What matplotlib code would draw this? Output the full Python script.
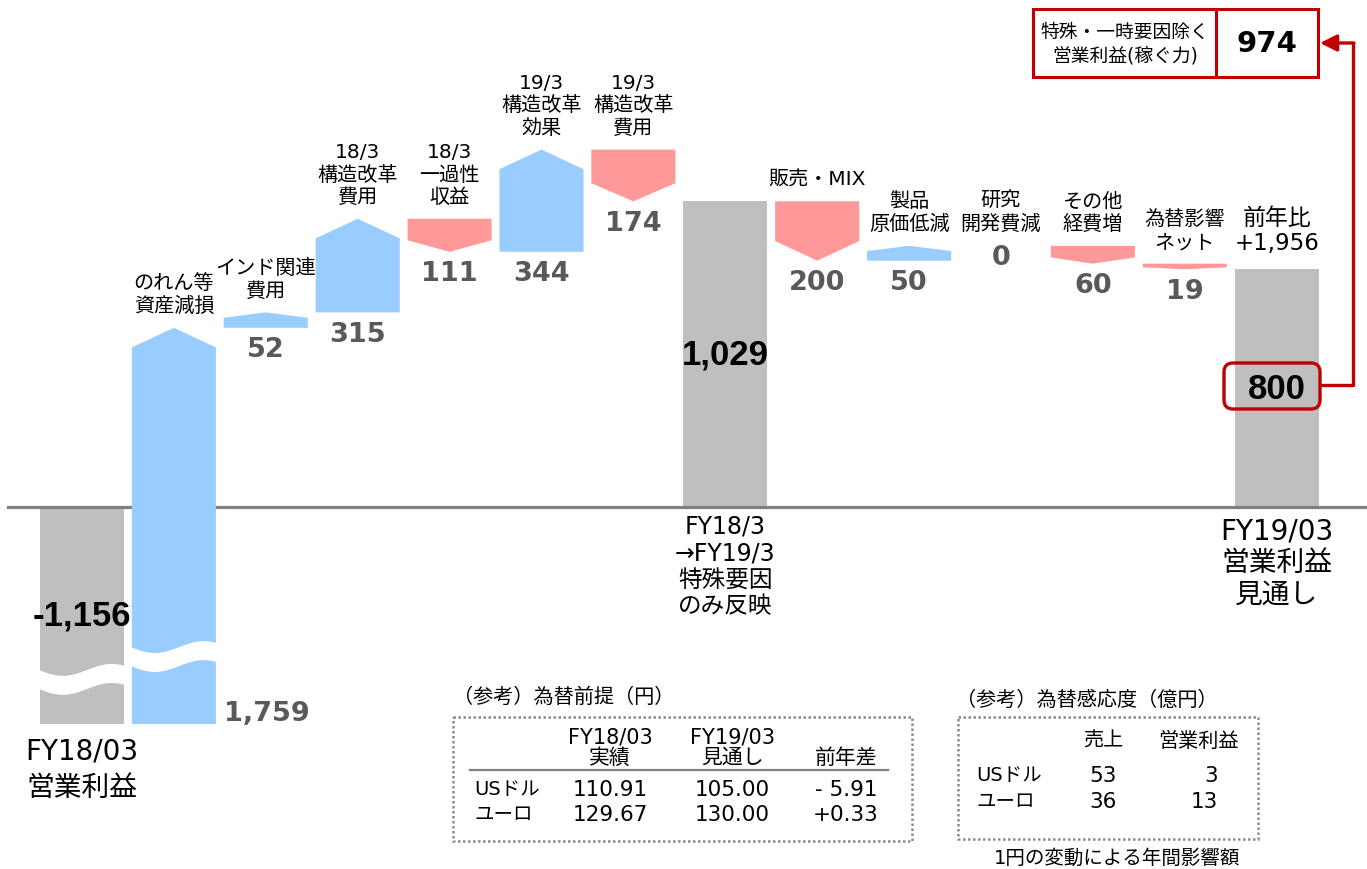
import numpy as np
import matplotlib.pyplot as plt
from matplotlib.patches import Polygon, Rectangle, FancyBboxPatch

plt.rcParams['font.family'] = ['DejaVu Sans', 'Noto Sans CJK JP']

# 営業利益の増減（億円）
categories = ['FY18/03\n営業利益', 'のれん等\n資産減損', 'インド関連\n費用',
              '18/3\n構造改革\n費用', '18/3\n一過性\n収益', '19/3\n構造改革\n効果',
              '19/3\n構造改革\n費用', 'FY18/3\n→FY19/3\n特殊要因\nのみ反映',
              '販売・MIX', '製品\n原価低減', '研究\n開発費減', 'その他\n経費増',
              '為替影響\nネット', 'FY19/03\n営業利益\n見通し']
values = [-1156, 1759, 52, 315, -111, 344, -174, 1029, -200, 50, 0, -60, -19, 800]
is_total = [True, False, False, False, False, False, False, True,
            False, False, False, False, False, True]
core_label = '特殊・一時要因除く\n営業利益(稼ぐ力)'
core_value = 974

# 為替前提（円）
fx_cols = ['FY18/03\n実績', 'FY19/03\n見通し', '前年差']
fx_rows = ['USドル', 'ユーロ']
fx_rates = [['110.91', '105.00', '- 5.91'],
            ['129.67', '130.00', '+0.33']]
# 為替感応度（億円）
sens_cols = ['売上', '営業利益']
sens_vals = [[53, 3], [36, 13]]

BLUE = '#99CCFF'
RED = '#FF9999'
GRAY = '#BFBFBF'
DARK = '#595959'
CRIMSON = '#C00000'
W = 0.915
BREAK = 425   # 軸省略で縮めた分


def arrow_bar(ax, x, y0, y1, color):
    h = min(0.35 * abs(y1 - y0), 66)
    if y1 >= y0:
        pts = [(x - W/2, y0), (x + W/2, y0), (x + W/2, y1 - h), (x, y1), (x - W/2, y1 - h)]
    else:
        pts = [(x - W/2, y0), (x + W/2, y0), (x + W/2, y1 + h), (x, y1), (x - W/2, y1 + h)]
    ax.add_patch(Polygon(pts, closed=True, color=color, lw=0, zorder=3))


def wave_cut(ax, x, yc, z):
    t = np.linspace(0, 1, 60)
    xs = x - W/2 - 0.02 + (W + 0.04) * t
    off = -20 * np.sin(2 * np.pi * 0.9 * t)
    ax.fill_between(xs, yc + off - 32, yc + off + 32, color='white', lw=0, zorder=z)


fig = plt.figure(figsize=(13.67, 8.70), dpi=100)
ax = fig.add_axes([0, 0, 1, 1])
ax.set_xlim(-0.892, 13.983)
ax.set_ylim(-1219, 1710)
ax.axis('off')

ax.axhline(0, xmin=8/1367, xmax=1, color='#808080', lw=2.3, zorder=2)

bottom_shown = values[0] + BREAK
running = 0
for i, v in enumerate(values):
    if is_total[i]:
        lo = bottom_shown if i == 0 else min(0, v)
        hi = max(0, v)
        ax.bar(i, hi - lo, bottom=lo, width=W, color=GRAY, zorder=1)
        ax.text(i, lo / 2 if i == 0 else v / 2, f'{v:,}', ha='center', va='center',
                fontsize=25, fontweight='bold', family='Liberation Sans',
                color='black', zorder=6)
        if i == 0:
            ax.annotate(categories[i], (i, lo), xytext=(0, -9), textcoords='offset points',
                        ha='center', va='top', fontsize=20, linespacing=1.4)
            wave_cut(ax, i, lo + 152, 2)
        elif i == 7:
            ax.annotate(categories[i], (i, 0), xytext=(0, -5), textcoords='offset points',
                        ha='center', va='top', fontsize=17, linespacing=1.12)
        else:
            ax.annotate(categories[i], (i, 0), xytext=(0, -7), textcoords='offset points',
                        ha='center', va='top', fontsize=20, linespacing=1.17)
            ax.annotate(f'前年比\n{values[-1] - values[0]:+,}', (i, v), xytext=(0, 11),
                        textcoords='offset points', ha='center', va='bottom',
                        fontsize=16.5, linespacing=1.1)
        running = v
        continue

    start = bottom_shown if i == 1 else running
    end = running + v
    if v != 0:
        arrow_bar(ax, i, start, end, BLUE if v > 0 else RED)
    top, low = max(start, end), min(start, end)
    ax.annotate(categories[i], (i, top), xytext=(0, 9), textcoords='offset points',
                ha='center', va='bottom', fontsize=14.5, linespacing=1.25)
    if i == 1:
        wave_cut(ax, i, start + 229, 4)
        ax.annotate(f'{abs(v):,}', (i + W/2, start), xytext=(6, 3), textcoords='offset points',
                    ha='left', va='baseline', fontsize=19.5, fontweight='bold', color=DARK)
    elif v == 0:
        ax.annotate('0', (i, top), xytext=(0, 1), textcoords='offset points',
                    ha='center', va='top', fontsize=19.5, fontweight='bold', color=DARK)
    else:
        ax.annotate(f'{abs(v):,}', (i, low), xytext=(0, -6), textcoords='offset points',
                    ha='center', va='top', fontsize=19.5, fontweight='bold', color=DARK)
    running = end

# 注記・表はピクセル座標で
ov = fig.add_axes([0, 0, 1, 1])
ov.set_xlim(0, 1367)
ov.set_ylim(870, 0)
ov.axis('off')

ov.add_patch(FancyBboxPatch((1224, 364), 96, 46, boxstyle='round,pad=0,rounding_size=9',
                            fc='none', ec=CRIMSON, lw=2.4, zorder=7))
ov.plot([1320, 1353, 1353], [386, 386, 44], color=CRIMSON, lw=2.4, solid_capstyle='butt')
ov.annotate('', xy=(1320, 44), xytext=(1354, 44),
            arrowprops=dict(arrowstyle='-|>,head_length=1.0,head_width=0.5',
                            color=CRIMSON, lw=2.4, shrinkA=0, shrinkB=0))
ov.add_patch(Rectangle((1033, 10), 285, 68, fill=False, ec=CRIMSON, lw=2.2))
ov.plot([1216, 1216], [10, 78], color=CRIMSON, lw=2.2)
ov.text(1125, 44, core_label, ha='center', va='center', fontsize=13.5, linespacing=1.3)
ov.text(1267, 44, f'{core_value:,}', ha='center', va='center', fontsize=21, fontweight='bold')

dot = dict(fill=False, ec='#8C8C8C', lw=1.8, ls=(0, (1, 1)))

# 為替前提
ov.text(453, 697, '（参考）為替前提（円）', ha='left', va='center', fontsize=14.5)
ov.add_patch(Rectangle((453, 718), 459, 124, **dot))
fx_x = [610, 732, 846]
for x, c in zip(fx_x, fx_cols):
    ov.text(x, 768, c, ha='center', va='bottom', fontsize=15, linespacing=1.05,
            multialignment='center')
ov.plot([470, 888], [771, 771], color='#808080', lw=1.6)
for r, (name, row) in enumerate(zip(fx_rows, fx_rates)):
    y = 790 + 25 * r
    ov.text(474, y, name, ha='left', va='center', fontsize=14)
    for x, s in zip(fx_x, row):
        ov.text(x, y, s, ha='center', va='center', fontsize=15.5)

# 為替感応度
ov.text(956, 700, '（参考）為替感応度（億円）', ha='left', va='center', fontsize=14.5)
ov.add_patch(Rectangle((958, 718), 300, 122, **dot))
ov.text(1103, 741, sens_cols[0], ha='center', va='center', fontsize=14.5)
ov.text(1198, 741, sens_cols[1], ha='center', va='center', fontsize=14.5)
for r, (name, row) in enumerate(zip(fx_rows, sens_vals)):
    y = 776 + 26 * r
    ov.text(976, y, name, ha='left', va='center', fontsize=14)
    ov.text(1103, y, f'{row[0]}', ha='center', va='center', fontsize=15.5)
    ov.text(1218, y, f'{row[1]}', ha='right', va='center', fontsize=15.5)
ov.text(1117, 858, '1円の変動による年間影響額', ha='center', va='center', fontsize=14)

fig.savefig('out.png', dpi=100)
